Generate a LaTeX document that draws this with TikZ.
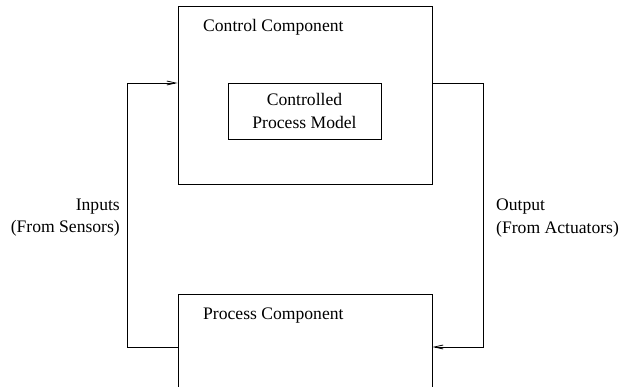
\documentclass[tikz,border=0pt]{standalone}
\usepackage{fontspec}
\setmainfont{Liberation Serif}
\usetikzlibrary{positioning}
\usetikzlibrary{arrows.meta}
\usetikzlibrary{calc}
\tikzset{>={Straight Barb[length=9pt,width=4pt]}}
\tikzstyle{compnode}=[black,draw=black,line width=0.8pt,shape=rectangle,inner sep=0pt]
\tikzstyle{labnode}=[black,inner sep=0pt]
\tikzstyle{taro}=[->,line width=0.8pt,color=black]

\begin{document}
\begin{tikzpicture}[x=1pt,y=-1pt,font=\fontsize{17.6}{22.2}\selectfont]

	% Frame
	\useasboundingbox (0, 0) rectangle (619, 387);
	\clip (0, 0) rectangle (619, 387);

	% Control side
	\node[compnode, minimum width=254pt, minimum height=178pt] (control) at (305, 95) {};
	\node[labnode, anchor = west] (clabel) at (203, 27) {Control Component};
	\node[compnode, minimum width=153pt, minimum height=56pt, align=center] (model) at (304.5, 111) {Controlled\\Process Model};

	% Process side
	\node[compnode, minimum width=254pt, minimum height=200pt] (process) at (305, 394) {};
	\node[labnode, anchor = west] (plabel) at (203, 316) {Process Component};

	% Feedback loop
	\coordinate (inbot) at (127, 347);
	\coordinate (intop) at (127, 83);
	\coordinate (outtop) at (483, 83);
	\coordinate (outbot) at (483, 347);
	\draw[taro] (process.west |- inbot) -- (inbot) -- (intop) -- (control.west |- intop);
	\draw[taro] (control.east |- outtop) -- (outtop) -- (outbot) -- (process.east |- outbot);
	\node[labnode, anchor = east, align = right] (inlabel) at (120, 218) {Inputs\\(From Sensors)};
	\node[labnode, anchor = west, align = left] (outlabel) at (496, 218) {Output\\(From Actuators)};

\end{tikzpicture}
\end{document}
